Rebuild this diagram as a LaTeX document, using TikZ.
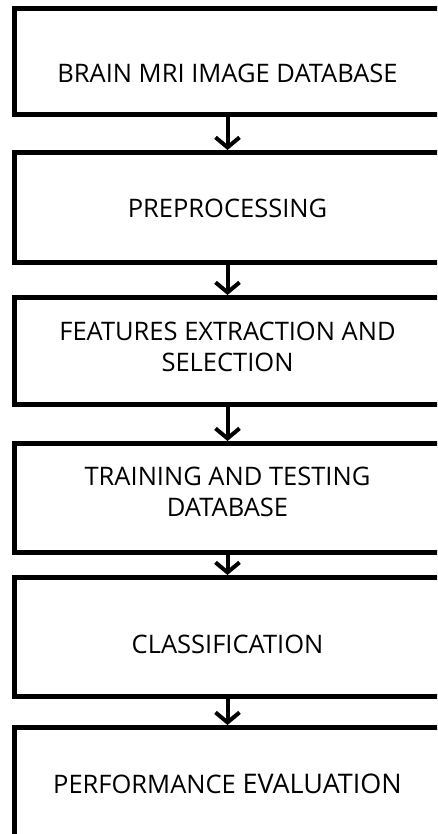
\documentclass[tikz,border=0pt]{standalone}
\usepackage{fontspec}
\setmainfont{Open Sans}
\usetikzlibrary{positioning,arrows.meta}

\tikzset{
    stage/.style={draw, line width=5pt, minimum width=427pt, inner sep=0pt,
        align=center, font=\fontsize{25.5}{31}\selectfont},
    flow/.style={line width=4pt, -{Straight Barb[length=10pt,width=24pt]}}
}

\begin{document}
\begin{tikzpicture}[x=1pt,y=-1pt]
        \useasboundingbox (0,0) rectangle (437,834);
        \clip (0,0) rectangle (437,834);
        % the stages, top to bottom (text height/depth set where the text sits off centre)
        \node[stage, minimum height=106pt, text height=42pt, text depth=0pt] (db) at (227.5,61.5) {BRAIN MRI IMAGE DATABASE};
        \node[stage, minimum height=110pt, text height=20pt, text depth=0pt, below=33pt of db] (prep) {PREPROCESSING};
        \node[stage, minimum height=107pt, text height=40pt, text depth=0pt, below=30pt of prep] (feat) {FEATURES EXTRACTION AND\\SELECTION};
        \node[stage, minimum height=109pt, text height=37pt, text depth=0pt, below=34pt of feat] (train) {TRAINING AND TESTING\\DATABASE};
        \node[stage, minimum height=119pt, text height=32pt, text depth=0pt, below=20pt of train] (class) {CLASSIFICATION};
        \node[stage, minimum height=112pt, text height=19pt, text depth=0pt, below=26pt of class] (perf) {PERFORMANCE {\fontsize{27}{31}\selectfont EVALUATION}};
        % arrows between them
        \draw[flow] (db.south) -- (prep.north);
        \draw[flow] (prep.south) -- (feat.north);
        \draw[flow] (feat.south) -- (train.north);
        \draw[flow] (train.south) -- (class.north);
        \draw[flow] (class.south) -- (perf.north);
    \end{tikzpicture}
\end{document}
